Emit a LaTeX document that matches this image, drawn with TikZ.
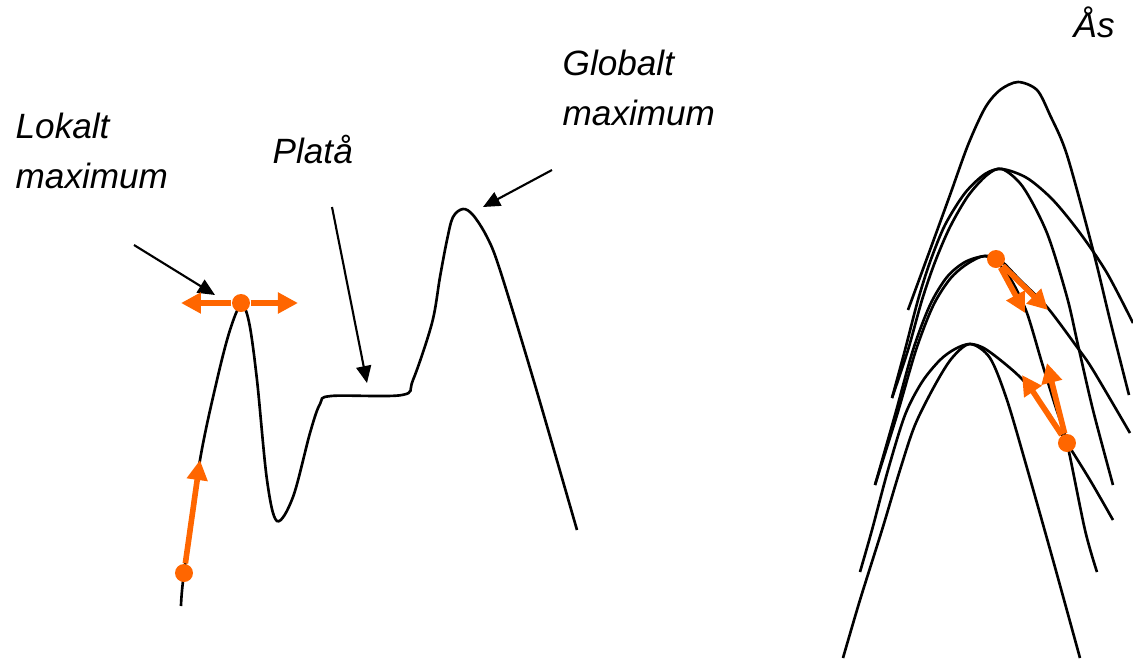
\documentclass[tikz,border=0pt]{standalone}
\usepackage{fontspec}
\setmainfont{Liberation Sans}
\usetikzlibrary{arrows.meta}
\definecolor{orng}{RGB}{255,102,0}

\begin{document}
\begin{tikzpicture}[
    lbl/.style={font=\itshape\fontsize{10}{14.2}\selectfont, inner sep=0pt, align=left, anchor=base west},
    curve/.style={line width=0.75pt},
    pointer/.style={line width=0.6pt, -{Triangle[length=0.17cm,width=0.15cm]}},
    oarr/.style={orng, line width=1.6pt, -{Triangle[length=0.2cm,width=0.2cm]}},
    dot/.style={circle, fill=orng, inner sep=0pt, minimum size=0.18cm}
]
    \useasboundingbox (0,0) rectangle (11.33,-6.60);

    % landscape
    \draw[curve] plot[smooth, tension=0.55] coordinates {(1.81,-6.06) (1.84,-5.73) (2.00,-4.60) (2.17,-3.80) (2.30,-3.30) (2.41,-3.05) (2.49,-3.22) (2.57,-3.80) (2.67,-4.80) (2.77,-5.21) (2.93,-4.97) (3.10,-4.33) (3.20,-4.04) (3.31,-3.96) (4.02,-3.95) (4.13,-3.80) (4.32,-3.23) (4.40,-2.77) (4.47,-2.40) (4.53,-2.17) (4.63,-2.09) (4.73,-2.15) (4.87,-2.37) (5.00,-2.70) (5.35,-3.85) (5.77,-5.30)};

    % ridge
    \draw[curve] plot[smooth] coordinates {(9.08,-3.10) (9.30,-2.50) (9.50,-1.95) (9.68,-1.45) (9.85,-1.08) (10.00,-0.90) (10.18,-0.82) (10.37,-0.90) (10.50,-1.15) (10.67,-1.55) (10.93,-2.50) (11.10,-3.20) (11.29,-3.95)};
    \draw[curve] plot[smooth] coordinates {(8.92,-3.98) (9.05,-3.50) (9.18,-3.00) (9.30,-2.62) (9.45,-2.25) (9.65,-1.93) (9.85,-1.74) (10.02,-1.69) (10.27,-1.78) (10.53,-2.00) (10.80,-2.33) (11.07,-2.73) (11.33,-3.23)};
    \draw[curve] plot[smooth] coordinates {(8.92,-3.98) (9.08,-3.50) (9.22,-3.00) (9.35,-2.62) (9.50,-2.27) (9.68,-1.96) (9.87,-1.75) (10.02,-1.69) (10.23,-1.87) (10.47,-2.33) (10.67,-2.97) (10.78,-3.45) (10.93,-4.10) (11.13,-4.85)};
    \draw[curve] plot[smooth] coordinates {(8.75,-4.85) (8.95,-4.15) (9.13,-3.50) (9.30,-3.05) (9.47,-2.77) (9.65,-2.62) (9.85,-2.56) (10.00,-2.60) (10.20,-2.80) (10.47,-3.07) (10.77,-3.47) (10.93,-3.70) (11.30,-4.33)};
    \draw[curve] plot[smooth] coordinates {(8.75,-4.85) (8.97,-4.15) (9.16,-3.50) (9.33,-3.06) (9.50,-2.79) (9.67,-2.64) (9.85,-2.56) (10.00,-2.65) (10.13,-2.83) (10.27,-3.13) (10.42,-3.63) (10.55,-4.05) (10.67,-4.43) (10.85,-5.30) (10.97,-5.72)};
    \draw[curve] plot[smooth] coordinates {(8.60,-5.72) (8.72,-5.30) (8.88,-4.70) (9.05,-4.15) (9.22,-3.82) (9.40,-3.60) (9.55,-3.49) (9.70,-3.44) (9.87,-3.50) (10.20,-3.77) (10.45,-4.08) (10.67,-4.43) (10.90,-4.80) (11.13,-5.20)};
    \draw[curve] plot[smooth] coordinates {(8.43,-6.58) (8.60,-6.00) (8.82,-5.30) (9.00,-4.70) (9.15,-4.25) (9.35,-3.85) (9.52,-3.58) (9.70,-3.44) (9.90,-3.58) (10.07,-4.00) (10.27,-4.68) (10.53,-5.60) (10.80,-6.58)};

    % labels
    \node[lbl] (lokLbl) at (0.15,-1.88) {Lokalt\\maximum};
    \node[lbl] (platLbl) at (2.72,-1.63) {Platå};
    \node[lbl] (globLbl) at (5.62,-1.25) {Globalt\\maximum};
    \node[lbl] (asLbl) at (10.73,-0.37) {Ås};

    \coordinate (lokFrom) at (1.34,-2.45);
    \coordinate (lokTo) at (2.15,-2.95);
    \coordinate (platFrom) at (3.32,-2.07);
    \coordinate (platTo) at (3.67,-3.83);
    \coordinate (globFrom) at (5.52,-1.70);
    \coordinate (globTo) at (4.83,-2.07);
    \draw[pointer] (lokFrom) -- (lokTo);
    \draw[pointer] (platFrom) -- (platTo);
    \draw[pointer] (globFrom) -- (globTo);

    % search steps
    \node[dot] (d1) at (1.84,-5.73) {};
    \node[dot] (d2) at (2.41,-3.03) {};
    \node[dot] (d3) at (9.96,-2.59) {};
    \node[dot] (d4) at (10.67,-4.43) {};
    \coordinate (t1) at (2.00,-4.60);
    \coordinate (t2a) at (1.81,-3.03);
    \coordinate (t2b) at (2.98,-3.03);
    \coordinate (t3a) at (10.25,-3.13);
    \coordinate (t3b) at (10.48,-3.10);
    \coordinate (t4a) at (10.22,-3.75);
    \coordinate (t4b) at (10.47,-3.63);
    \draw[oarr] (d1) -- (t1);
    \draw[oarr] (d2) -- (t2a);
    \draw[oarr] (d2) -- (t2b);
    \draw[oarr] (d3) -- (t3a);
    \draw[oarr] (d3) -- (t3b);
    \draw[oarr] (d4) -- (t4a);
    \draw[oarr] (d4) -- (t4b);
\end{tikzpicture}
\end{document}
